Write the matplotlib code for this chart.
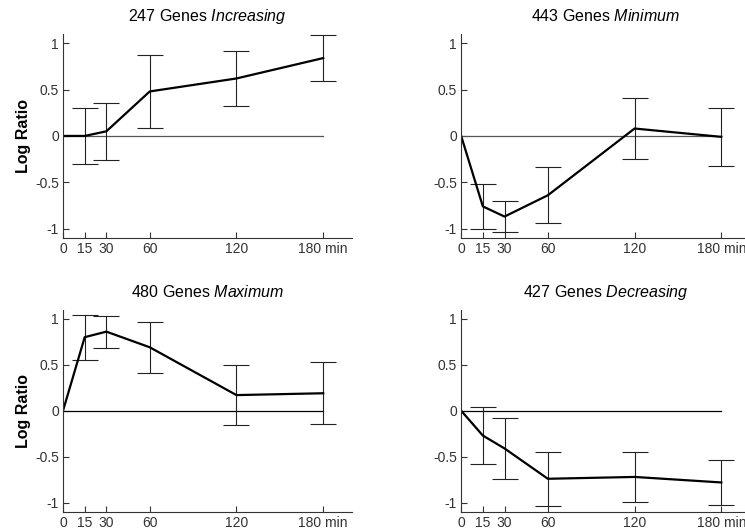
import matplotlib
matplotlib.use('Agg')
from matplotlib import pyplot as plt

plt.rcParams['font.family'] = ['Liberation Sans', 'DejaVu Sans']
plt.rcParams['mathtext.fontset'] = 'custom'
plt.rcParams['mathtext.rm'] = 'Liberation Sans'
plt.rcParams['mathtext.it'] = 'Liberation Sans:italic'

times = [0, 15, 30, 60, 120, 180]
tick_labels = ['0', '15', '30', '60', '120', '180 min']

counts = [247, 443, 480, 427]
patterns = ['Increasing', 'Minimum', 'Maximum', 'Decreasing']

inc_y = [0, 0.0, 0.05, 0.48, 0.62, 0.84]
inc_err = [0, 0.30, 0.31, 0.39, 0.30, 0.25]
min_y = [0, -0.76, -0.87, -0.64, 0.08, -0.01]
min_err = [0, 0.24, 0.17, 0.30, 0.33, 0.31]
max_y = [0, 0.80, 0.86, 0.69, 0.17, 0.19]
max_err = [0, 0.245, 0.175, 0.28, 0.325, 0.335]
dec_y = [0, -0.27, -0.41, -0.74, -0.72, -0.78]
dec_err = [0, 0.31, 0.335, 0.295, 0.275, 0.24]

series = [(inc_y, inc_err), (min_y, min_err), (max_y, max_err), (dec_y, dec_err)]

fig = plt.figure(figsize=(7.45, 5.31), dpi=100)
positions = [[0.0846, 0.552, 0.388, 0.384],
             [0.619, 0.552, 0.388, 0.384],
             [0.0846, 0.036, 0.388, 0.381],
             [0.619, 0.036, 0.388, 0.381]]
zero_colors = ['#555555', '#555555', 'black', 'black']

for i, (ys, errs) in enumerate(series):
    ax = fig.add_axes(positions[i])
    ax.plot([0, 180], [0, 0], color=zero_colors[i], linewidth=0.9)
    ax.errorbar(times[1:], ys[1:], yerr=errs[1:], fmt='none', ecolor='#222222',
                elinewidth=0.8, capsize=9.5, capthick=0.8)
    ax.plot(times, ys, color='black', linewidth=1.6)
    ax.set_xlim(0, 200)
    ax.set_ylim(-1.1, 1.1)
    ax.set_xticks(times)
    ax.set_xticklabels(tick_labels)
    ax.set_yticks([-1, -0.5, 0, 0.5, 1])
    ax.set_yticklabels(['-1', '-0.5', '0', '0.5', '1'])
    ax.tick_params(direction='in', length=4, width=0.8, labelsize=10,
                   labelcolor='#333333', color='#333333', pad=3)
    ax.spines['top'].set_visible(False)
    ax.spines['right'].set_visible(False)
    ax.spines['left'].set_color('#333333')
    ax.spines['bottom'].set_color('#333333')
    ax.set_title('%d Genes $\\mathit{%s}$' % (counts[i], patterns[i]),
                 fontsize=11.5, pad=9)
    if i % 2 == 0:
        ax.set_ylabel('Log Ratio', fontsize=11.5, fontweight='bold', labelpad=3)

plt.savefig('out.png', dpi=100)
